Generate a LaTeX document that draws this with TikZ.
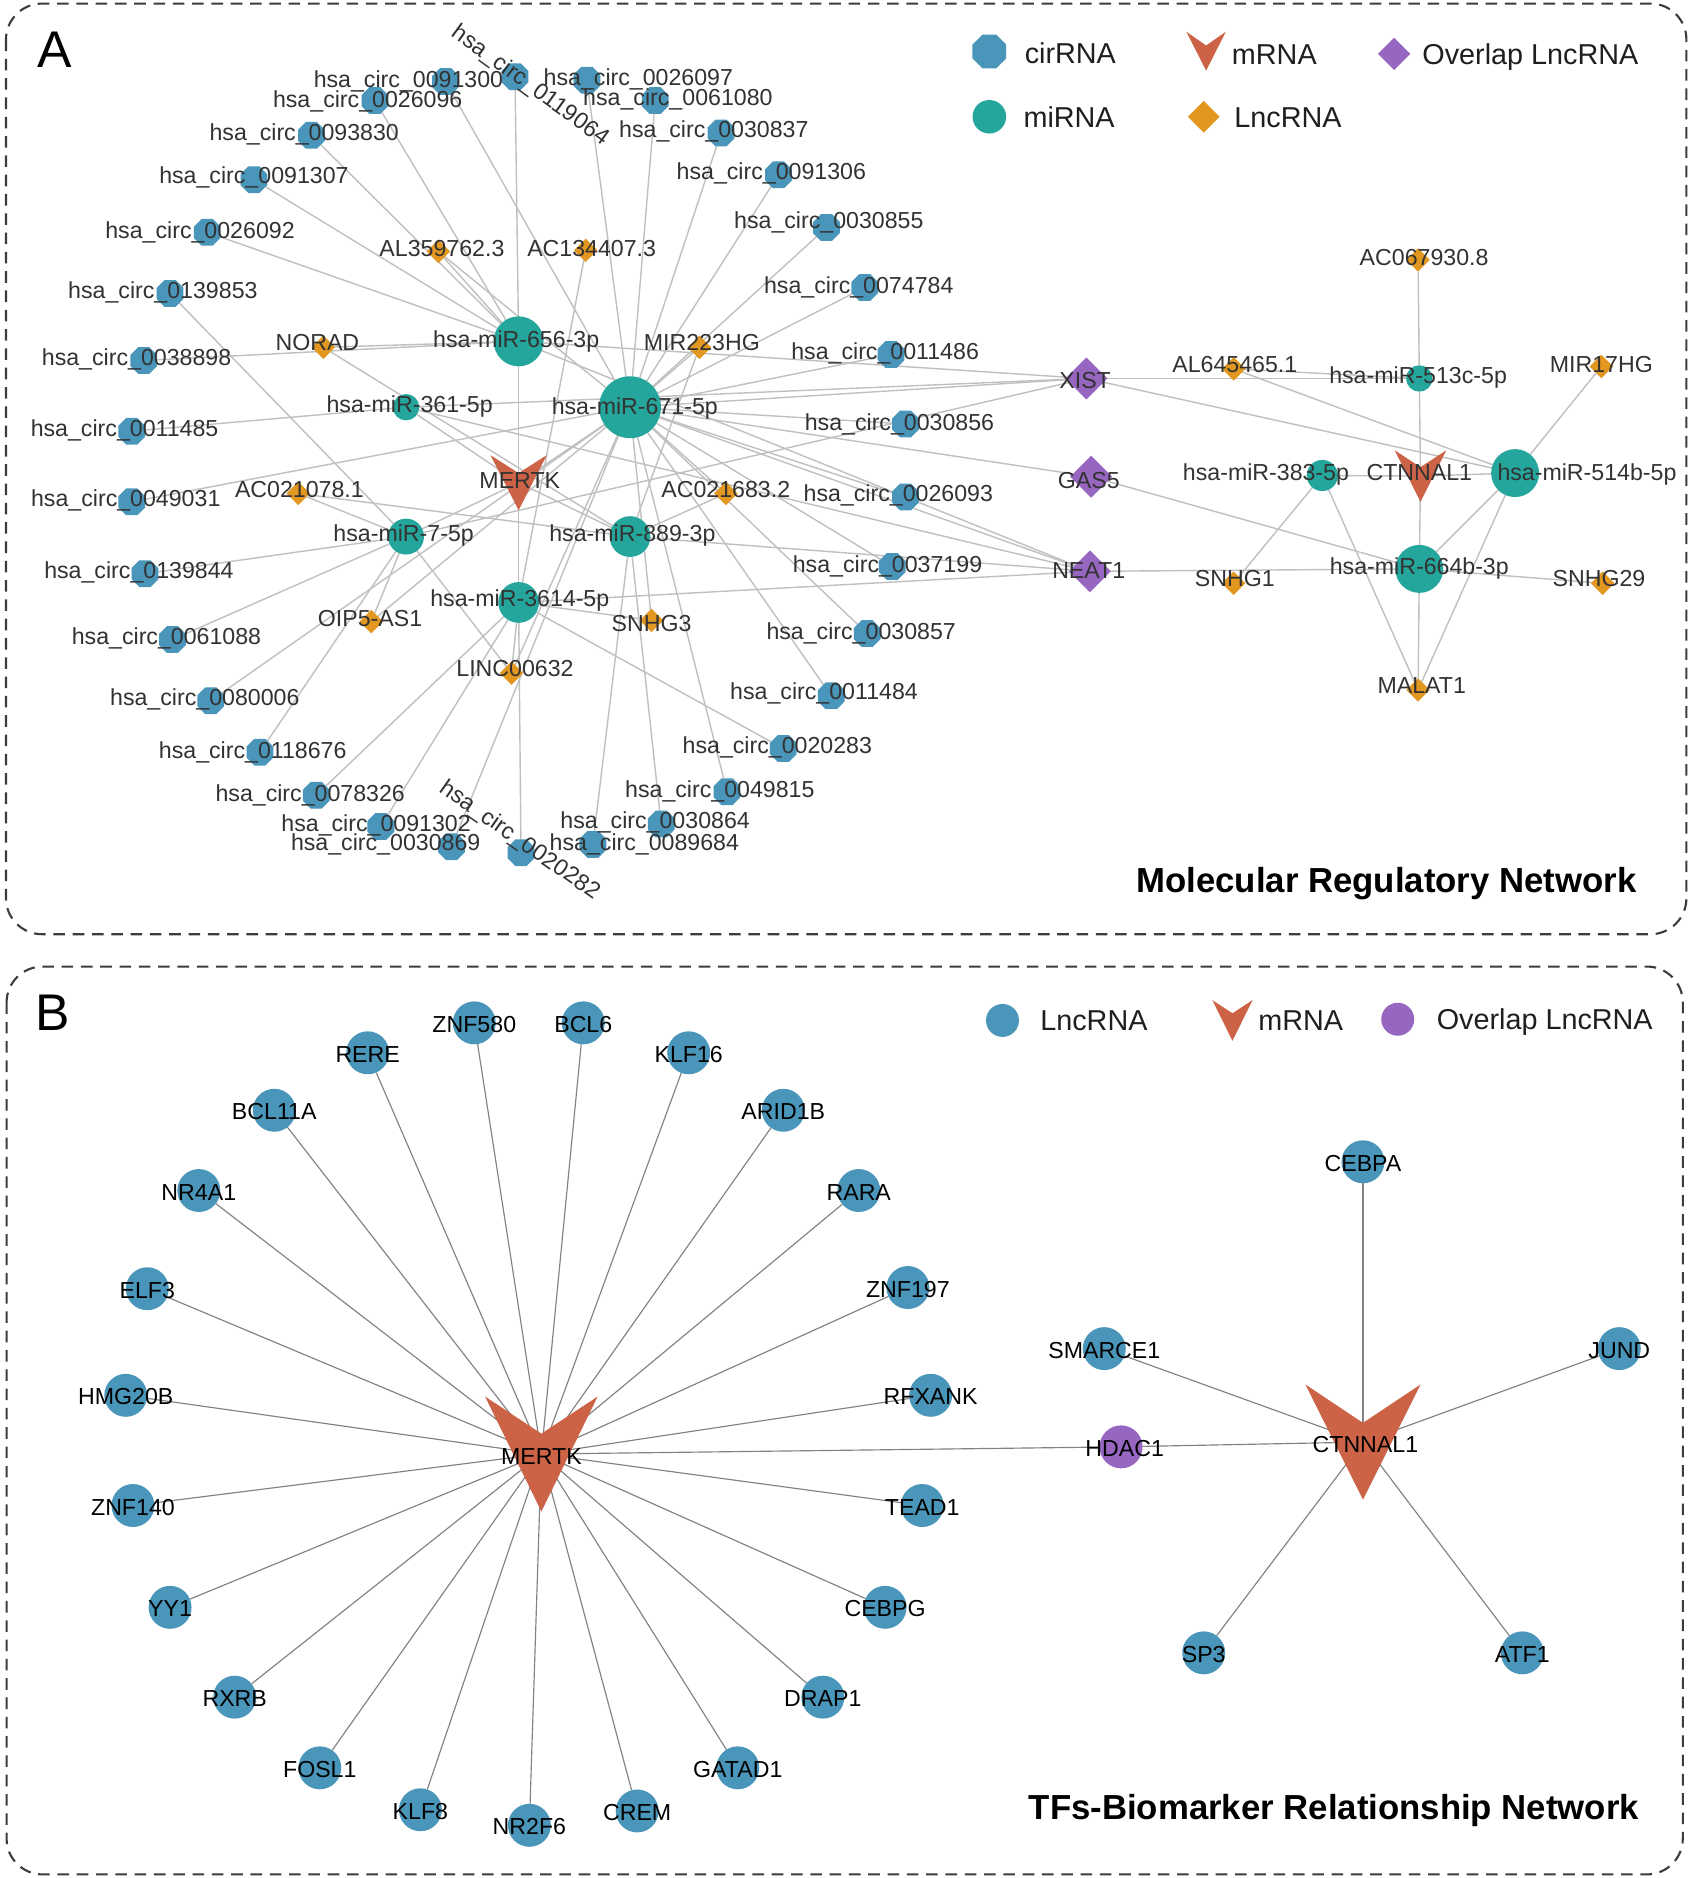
\documentclass[tikz,border=0pt]{standalone}
\usepackage{fontspec}
\setmainfont{Liberation Sans}
\usetikzlibrary{shapes.geometric}
\pgfdeclarelayer{back}
\pgfdeclarelayer{bg}
\pgfdeclarelayer{fg}
\pgfsetlayers{back,bg,main,fg}
\definecolor{cblue}{RGB}{74,150,186}
\definecolor{mteal}{RGB}{36,166,156}
\definecolor{lorange}{RGB}{226,152,32}
\definecolor{opurple}{RGB}{150,102,192}
\definecolor{mred}{RGB}{205,99,70}
\definecolor{txtA}{RGB}{50,50,50}
\definecolor{edgeA}{RGB}{192,192,192}
\definecolor{edgeB}{RGB}{130,130,130}
\definecolor{framec}{RGB}{60,60,60}
\tikzset{
 circ/.style={regular polygon, regular polygon sides=8, minimum size=0.29cm, inner sep=0pt, outer sep=0pt, fill=cblue},
 mir/.style={circle, inner sep=0pt, outer sep=0pt, fill=mteal, minimum size=#1},
 lnc/.style={diamond, inner sep=0pt, outer sep=0pt, minimum size=0.235cm, fill=lorange},
 ovl/.style={diamond, inner sep=0pt, outer sep=0pt, minimum size=0.42cm, fill=opurple},
 tfn/.style={circle, inner sep=0pt, outer sep=0pt, fill=cblue, minimum size=0.43cm},
 tfo/.style={circle, inner sep=0pt, outer sep=0pt, fill=opurple, minimum size=0.43cm},
 labA/.style={inner sep=0pt, yshift=0.03cm, font=\fontsize{6.6}{7}\selectfont, text=txtA, text height=0.72em, text depth=0pt},
 labB/.style={inner sep=0pt, yshift=0.03cm, font=\fontsize{6.6}{7}\selectfont, text=black, text height=0.72em, text depth=0pt},
 legt/.style={inner sep=0pt, yshift=0.024cm, anchor=west, font=\fontsize{8.2}{9}\selectfont, text=black!88, text height=0.72em, text depth=0pt},
 ttl/.style={inner sep=0pt, anchor=east, font=\bfseries\fontsize{9.9}{11}\selectfont, text height=0.72em, text depth=0pt},
 panlet/.style={inner sep=0pt, font=\fontsize{14.7}{16}\selectfont, text height=0.72em, text depth=0pt},
 edA/.style={draw=edgeA, line width=0.4pt},
 edB/.style={draw=edgeB, line width=0.33pt},
 frame/.style={draw=framec, line width=0.6pt, dash pattern=on 3.3pt off 2.2pt, rounded corners=0.36cm},
}
\newcommand\CR[6]{\node[circ] (#1) at (#2,#3) {};\begin{pgfonlayer}{fg}\node[labA] (#1l) at (#4,#5) {hsa\_circ\_#6};\end{pgfonlayer}}
\newcommand\LN[6]{\node[lnc] (#1) at (#2,#3) {};\begin{pgfonlayer}{fg}\node[labA] (#1l) at (#4,#5) {#6};\end{pgfonlayer}}
\newcommand\OV[6]{\node[ovl] (#1) at (#2,#3) {};\begin{pgfonlayer}{fg}\node[labA] (#1l) at (#4,#5) {#6};\end{pgfonlayer}}
\newcommand\MI[7]{\node[mir=#4] (#1) at (#2,#3) {};\begin{pgfonlayer}{fg}\node[labA] (#1l) at (#5,#6) {hsa-miR-#7};\end{pgfonlayer}}
\newcommand\VS[6]{\fill[mred] (#2-#6,#3) -- (#2,#4) -- (#2+#6,#3) -- (#2,#5) -- cycle; \coordinate (#1) at (#2,{(#3+#5)/2});}
\newcommand\TF[4]{\node[tfn] (#1) at (#2,#3) {};\begin{pgfonlayer}{fg}\node[labB] (#1l) at (#2,#3) {#4};\end{pgfonlayer}}
\begin{document}
\begin{tikzpicture}[x=0.012cm,y=-0.012cm]
\useasboundingbox (0,0) rectangle (1422,1568);
\begin{pgfonlayer}{back}\fill[white] (0,0) rectangle (1422,1568);\end{pgfonlayer}
% frames
\draw[frame] (5,3) rectangle (1408,780);
\draw[frame] (5.5,807) rectangle (1405,1565);
\node[panlet] (letA) at (46,46) {A};
\node[panlet] (letB) at (44,850) {B};
\node[ttl] (ttlA) at (1367,735) {Molecular Regulatory Network};
\node[ttl] (ttlB) at (1369,1509) {TFs-Biomarker Relationship Network};
% legend A
\node[regular polygon, regular polygon sides=8, minimum size=0.365cm, inner sep=0pt, fill=cblue] (lgA1) at (826,43) {};
\node[legt] (lgA1t) at (855,44.5) {cirRNA};
\node[circle, minimum size=0.336cm, inner sep=0pt, fill=mteal] (lgA2) at (826,97.5) {};
\node[legt] (lgA2t) at (854,98) {miRNA};
\VS{lgA3}{1007}{26.5}{38}{59}{16.5}
\node[legt] (lgA3t) at (1028,45) {mRNA};
\node[diamond, minimum size=0.325cm, inner sep=0pt, fill=lorange] (lgA4) at (1005,97.5) {};
\node[legt] (lgA4t) at (1030,98) {LncRNA};
\node[diamond, minimum size=0.33cm, inner sep=0pt, fill=opurple] (lgA5) at (1164,45) {};
\node[legt] (lgA5t) at (1187,45) {Overlap LncRNA};
% legend B
\node[circle, minimum size=0.33cm, inner sep=0pt, fill=cblue] (lgB1) at (837,852) {};
\node[legt] (lgB1t) at (868,852) {LncRNA};
\VS{lgB2}{1029}{835}{846}{869}{16.8}
\node[legt] (lgB2t) at (1050,852) {mRNA};
\node[circle, minimum size=0.33cm, inner sep=0pt, fill=opurple] (lgB3) at (1167,851) {};
\node[legt] (lgB3t) at (1199,851) {Overlap LncRNA};
% ---------------- Panel A nodes
\CR{c0091300}{372}{68}{341}{65}{0091300}
\node[circ] (c0119064) at (430,64) {};
\begin{pgfonlayer}{fg}\node[labA, rotate=-36] (c0119064l) at (446,70) {hsa\_circ\_0119064};\end{pgfonlayer}
\CR{c0026097}{490}{67}{533}{63}{0026097}
\CR{c0026096}{313}{84}{307}{82}{0026096}
\CR{c0061080}{547}{84}{566}{80}{0061080}
\CR{c0093830}{260}{113}{254}{109}{0093830}
\CR{c0030837}{602}{111}{596}{107}{0030837}
\CR{c0091307}{212}{150}{212}{145}{0091307}
\CR{c0091306}{650}{146}{644}{142}{0091306}
\CR{c0026092}{173}{194}{167}{191}{0026092}
\CR{c0030855}{690}{190}{692}{183}{0030855}
\CR{c0139853}{142}{245}{136}{241}{0139853}
\CR{c0074784}{722}{240}{717}{237}{0074784}
\CR{c0038898}{120}{301}{114}{297}{0038898}
\CR{c0011486}{744}{296}{739}{292}{0011486}
\CR{c0011485}{110}{360}{104}{356}{0011485}
\CR{c0030856}{756}{354}{751}{351}{0030856}
\CR{c0049031}{110}{419}{105}{415}{0049031}
\CR{c0026093}{756}{415}{750}{411}{0026093}
\CR{c0139844}{121}{479}{116}{475}{0139844}
\CR{c0037199}{745}{473}{741}{470}{0037199}
\CR{c0061088}{144}{534}{139}{530}{0061088}
\CR{c0030857}{724}{529}{719}{526}{0030857}
\CR{c0080006}{176}{585}{171}{581}{0080006}
\CR{c0011484}{694}{581}{688}{576}{0011484}
\CR{c0118676}{217}{628}{211}{625}{0118676}
\CR{c0020283}{654}{625}{649}{621}{0020283}
\CR{c0078326}{264}{664}{259}{661}{0078326}
\CR{c0049815}{607}{661}{601}{658}{0049815}
\CR{c0091302}{318}{690}{314}{686}{0091302}
\CR{c0030864}{552}{688}{547}{684}{0030864}
\CR{c0030869}{377}{707}{322}{702}{0030869}
\CR{c0089684}{495}{705}{538}{702}{0089684}
\node[circ] (c0020282) at (435,712) {};
\begin{pgfonlayer}{fg}\node[labA, rotate=-35] (c0020282l) at (437,700) {hsa\_circ\_0020282};\end{pgfonlayer}
% lncRNA
\LN{AL359}{366}{210}{369}{206}{AL359762.3}
\LN{AC134}{489}{209}{494}{206}{AC134407.3}
\LN{NORAD}{270}{290}{265}{285}{NORAD}
\LN{MIR223}{584}{290}{586}{285}{MIR223HG}
\LN{ACa}{249}{412}{250}{407}{AC021078.1}
\LN{ACb}{606}{412}{606}{407}{AC021683.2}
\LN{OIP5}{310}{519}{309}{515}{OIP5-AS1}
\LN{SNHG3}{544}{518}{544}{519}{SNHG3}
\LN{LINC}{427}{562}{430}{557}{LINC00632}
\LN{AC067}{1184}{217}{1189}{214}{AC067930.8}
\LN{AL645}{1030}{308}{1031}{303}{AL645465.1}
\LN{MIR17}{1337}{306}{1337}{303}{MIR17HG}
\LN{SNHG1}{1030}{487}{1031}{482}{SNHG1}
\LN{SNHG29}{1338}{487}{1335}{482}{SNHG29}
\LN{MALAT1}{1184}{576}{1187}{571}{MALAT1}
% overlap
\OV{XIST}{907}{316}{906}{316}{XIST}
\OV{GAS5}{911}{398}{909}{400}{GAS5}
\OV{NEAT1}{910}{477}{909}{475}{NEAT1}
% miRNA
\MI{m656}{433}{285}{0.5cm}{431}{282}{656-3p}
\MI{m671}{526}{340}{0.62cm}{530}{338}{671-5p}
\MI{m361}{339}{340}{0.264cm}{342}{336}{361-5p}
\MI{m75}{339}{448}{0.36cm}{337}{444}{7-5p}
\MI{m889}{526}{448}{0.408cm}{528}{444}{889-3p}
\MI{m3614}{433}{503}{0.408cm}{434}{498}{3614-5p}
\MI{m513}{1185}{316}{0.264cm}{1184}{312}{513c-5p}
\MI{m383}{1104}{397}{0.312cm}{1057}{393}{383-5p}
\MI{m514}{1265}{395}{0.48cm}{1325}{393}{514b-5p}
\MI{m664}{1185}{475}{0.48cm}{1185}{472}{664b-3p}
% mRNA
\VS{mertkA}{433}{380}{395}{426}{23.5}
\begin{pgfonlayer}{fg}\node[labA] (mertkAl) at (434,400) {MERTK};\end{pgfonlayer}
\VS{ctnA}{1186}{376}{390}{419}{21.5}
\begin{pgfonlayer}{fg}\node[labA] (ctnAl) at (1185,393) {CTNNAL1};\end{pgfonlayer}
% edges A
\begin{pgfonlayer}{bg}
\foreach \a/\b in {m656/c0026096, m656/c0093830, m656/c0091307, m656/c0026092, m656/c0038898, m656/c0119064, m656/AL359, m656/NORAD, m656/mertkA, m656/XIST, m656/NEAT1,
 m671/c0091300, m671/c0026097, m671/c0061080, m671/c0030837, m671/c0091306, m671/c0030855, m671/c0074784, m671/c0011486, m671/c0030856, m671/c0026093, m671/c0037199, m671/c0030857, m671/c0011484, m671/c0049031, m671/c0080006, m671/c0030869, m671/c0049815, m671/AL359, m671/MIR223, m671/ACb, m671/SNHG3, m671/LINC, m671/OIP5, m671/XIST, m671/GAS5, m671/NEAT1, m671/mertkA,
 m361/c0011485, m361/mertkA, m361/XIST, m361/NEAT1,
 m75/c0139853, m75/c0139844, m75/c0061088, m75/c0118676, m75/mertkA, m75/OIP5, m75/LINC, m75/XIST, m75/ACa,
 m889/c0089684, m889/c0030864, m889/NEAT1, m889/ACa, m889/ACb, m889/MIR223, m889/NORAD, m889/mertkA,
 m3614/c0078326, m3614/c0091302, m3614/c0020282, m3614/c0020283, m3614/SNHG3, m3614/NEAT1, m3614/mertkA, m3614/AC134, m3614/LINC,
 m513/AC067, m513/AL645, m513/XIST, m513/ctnA,
 m383/ctnA, m383/SNHG1, m383/MALAT1,
 m514/MIR17, m514/ctnA, m514/AL645, m514/XIST, m514/m664, m514/MALAT1,
 m664/ctnA, m664/MALAT1, m664/SNHG29, m664/NEAT1, m664/GAS5}
 \draw[edA] (\a) -- (\b);
\end{pgfonlayer}
% ---------------- Panel B
\TF{ZNF580}{396}{854}{ZNF580}
\TF{BCL6}{487}{854}{BCL6}
\TF{RERE}{307}{879}{RERE}
\TF{KLF16}{575}{879}{KLF16}
\TF{BCL11A}{229}{927}{BCL11A}
\TF{ARID1B}{654}{927}{ARID1B}
\TF{NR4A1}{166}{994}{NR4A1}
\TF{RARA}{717}{994}{RARA}
\TF{ELF3}{123}{1076}{ELF3}
\TF{ZNF197}{758}{1075}{ZNF197}
\TF{HMG20B}{105}{1165}{HMG20B}
\TF{RFXANK}{777}{1165}{RFXANK}
\TF{ZNF140}{111}{1257}{ZNF140}
\TF{TEAD1}{770}{1257}{TEAD1}
\TF{YY1}{142}{1342}{YY1}
\TF{CEBPG}{739}{1342}{CEBPG}
\TF{RXRB}{196}{1417}{RXRB}
\TF{DRAP1}{687}{1417}{DRAP1}
\TF{FOSL1}{267}{1476}{FOSL1}
\TF{GATAD1}{616}{1476}{GATAD1}
\TF{KLF8}{351}{1511}{KLF8}
\TF{CREM}{532}{1512}{CREM}
\TF{NR2F6}{442}{1524}{NR2F6}
\TF{CEBPA}{1138}{970}{CEBPA}
\TF{SMARCE1}{922}{1126}{SMARCE1}
\TF{JUND}{1352}{1126}{JUND}
\TF{SP3}{1005}{1380}{SP3}
\TF{ATF1}{1271}{1380}{ATF1}
\node[tfo] (HDAC1) at (936,1208) {};
\begin{pgfonlayer}{fg}\node[labB] (HDAC1l) at (939,1208) {HDAC1};\end{pgfonlayer}
\VS{mertkB}{452}{1166}{1197}{1262}{47}
\begin{pgfonlayer}{fg}\node[labB] (mertkBl) at (452,1215) {MERTK};\end{pgfonlayer}
\VS{ctnB}{1138}{1156}{1188}{1252}{48}
\begin{pgfonlayer}{fg}\node[labB] (ctnBl) at (1140,1205) {CTNNAL1};\end{pgfonlayer}
\begin{pgfonlayer}{bg}
\foreach \b in {ZNF580,BCL6,RERE,KLF16,BCL11A,ARID1B,NR4A1,RARA,ELF3,ZNF197,HMG20B,RFXANK,ZNF140,TEAD1,YY1,CEBPG,RXRB,DRAP1,FOSL1,GATAD1,KLF8,CREM,NR2F6,HDAC1}
 \draw[edB] (mertkB) -- (\b);
\foreach \b in {CEBPA,SMARCE1,JUND,SP3,ATF1,HDAC1}
 \draw[edB] (ctnB) -- (\b);
\end{pgfonlayer}
\end{tikzpicture}
\end{document}
